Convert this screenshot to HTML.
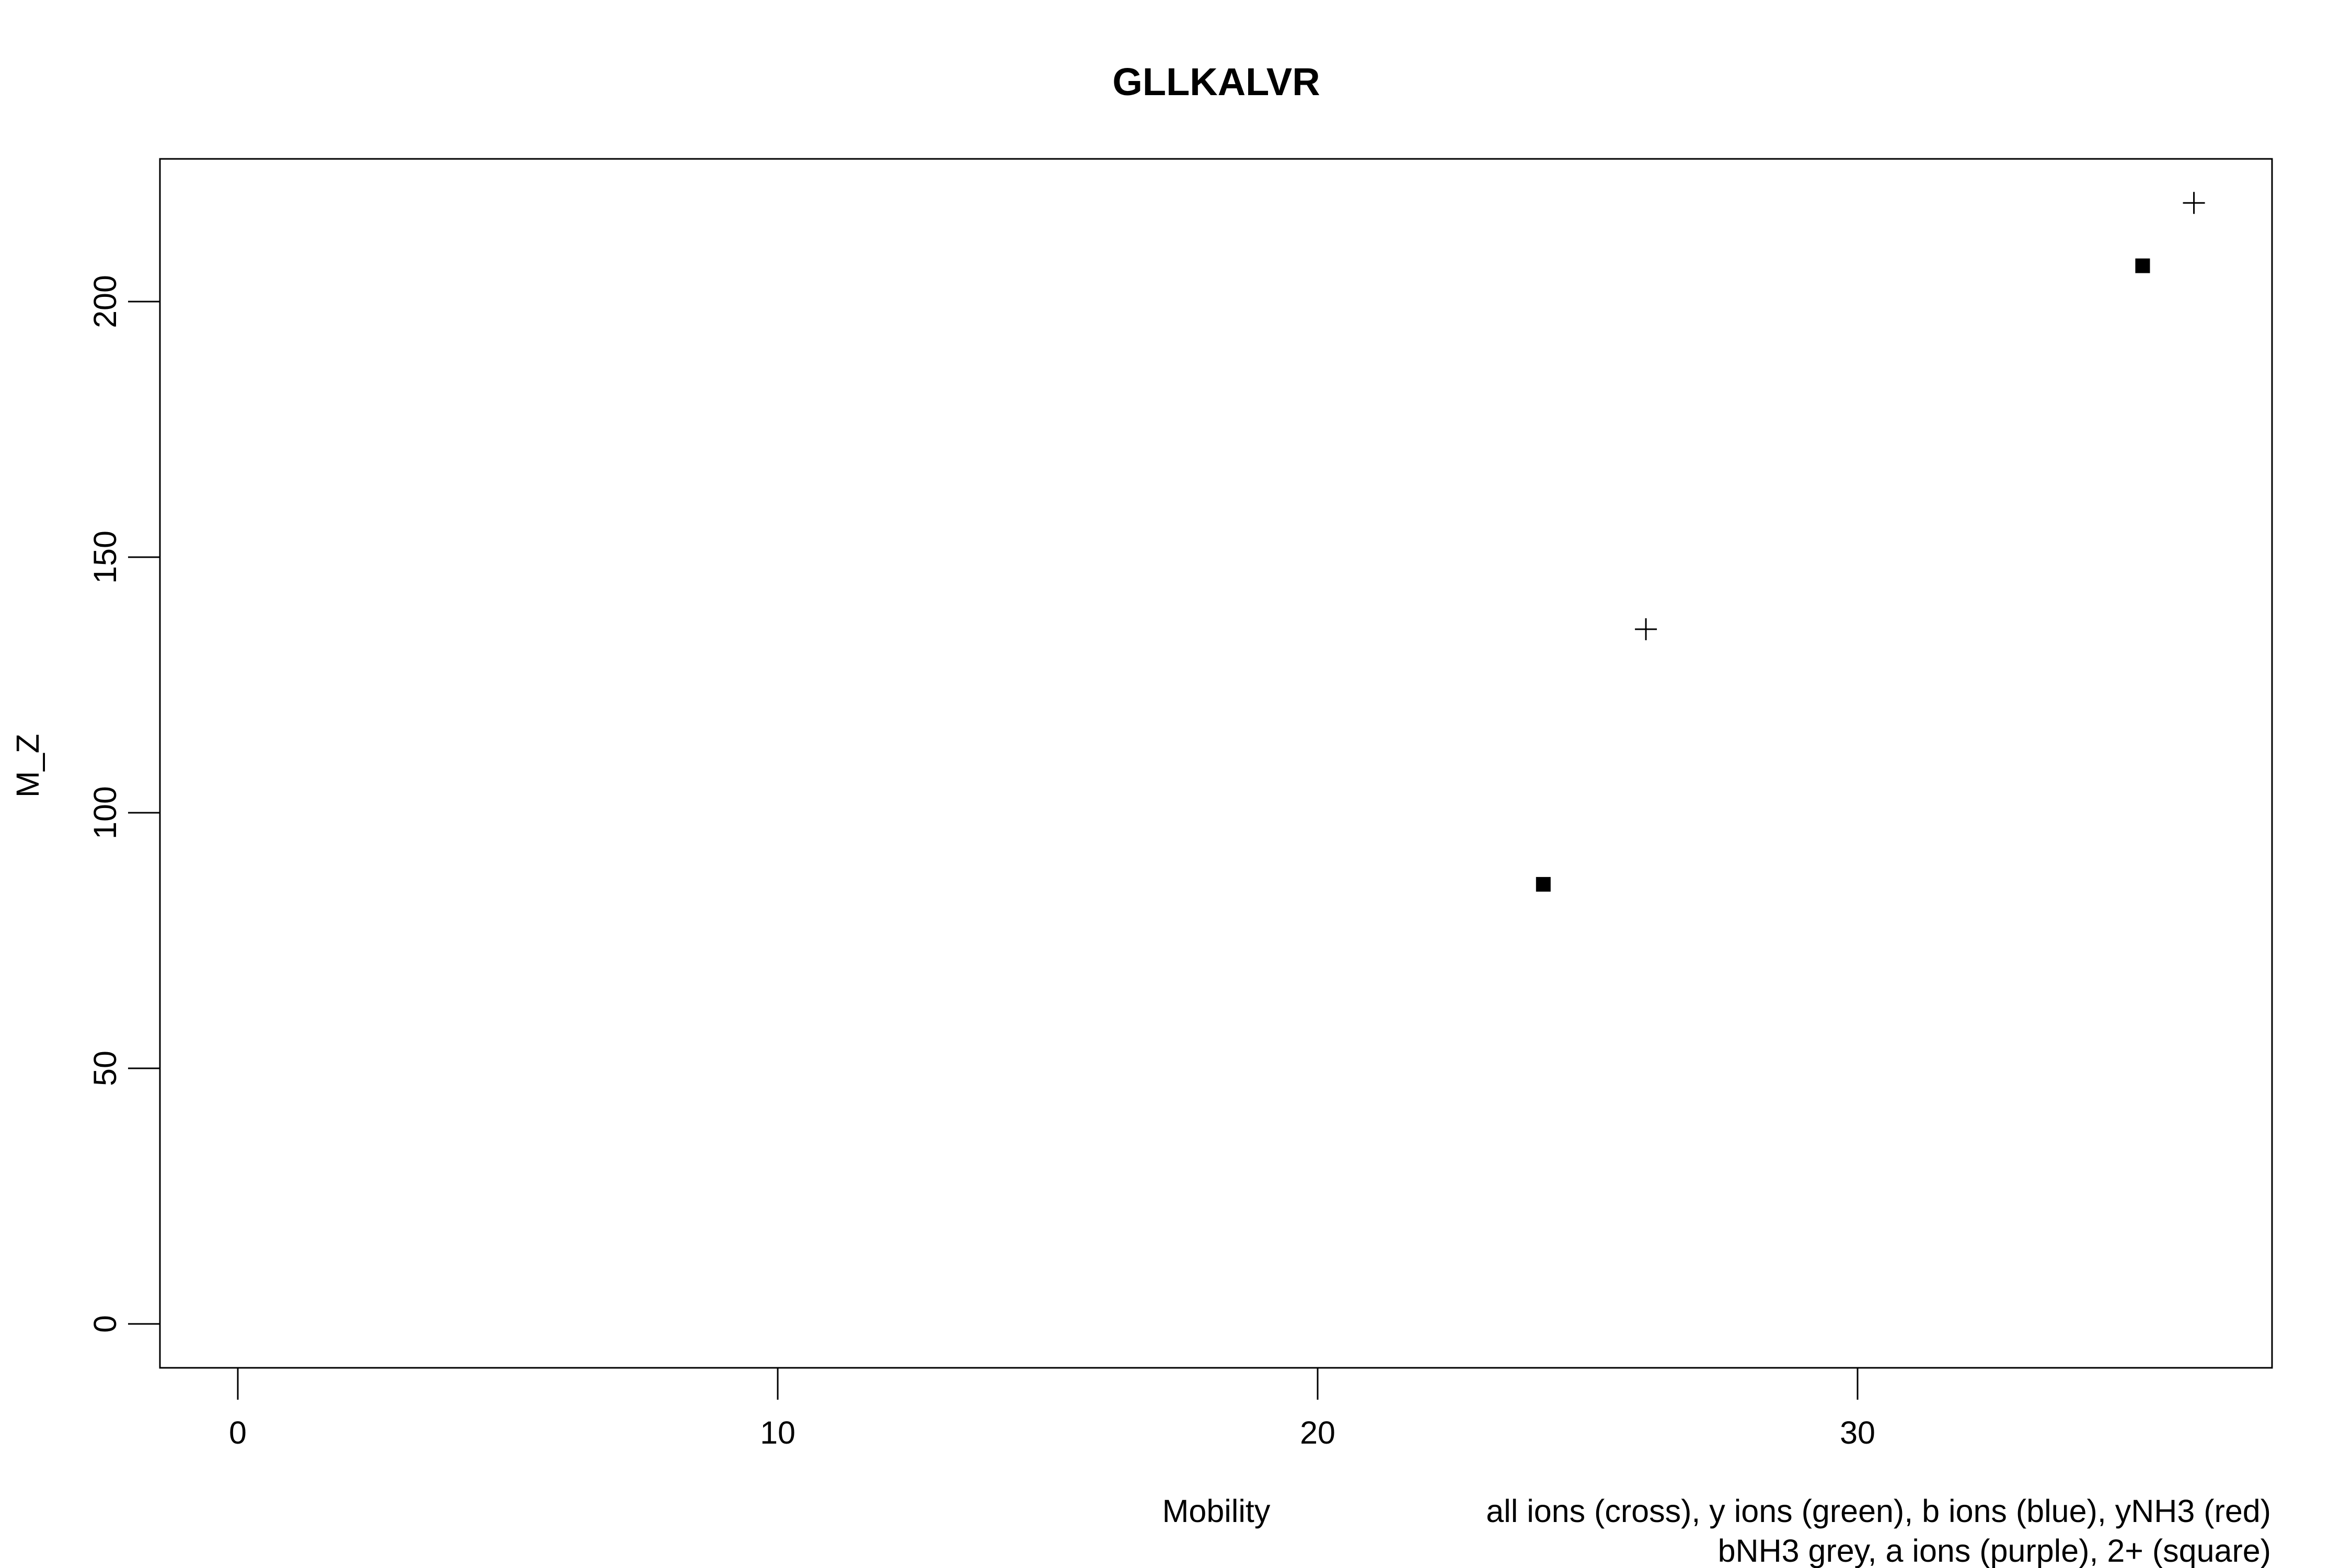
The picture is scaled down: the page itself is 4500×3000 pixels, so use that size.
<!DOCTYPE html>
<html><head><meta charset="utf-8"><style>
html,body{margin:0;padding:0;background:#fff;}
svg{display:block;font-family:"Liberation Sans",sans-serif;}
</style></head><body>
<svg id="chart" width="4500" height="3000" viewBox="0 0 4500 3000" xmlns="http://www.w3.org/2000/svg">
<rect width="4500" height="3000" fill="#fff"/>
<text x="2327" y="182" font-size="74" font-weight="bold" text-anchor="middle">GLLKALVR</text>
<rect x="306" y="304" width="4041" height="2313" fill="none" stroke="#000" stroke-width="3"/>
<g id="axes"></g>
<g id="marks"></g>
<text x="2327" y="2912" font-size="61" text-anchor="middle">Mobility</text>
<text x="4345" y="2912" font-size="61" text-anchor="end">all ions (cross), y ions (green), b ions (blue), yNH3 (red)</text>
<text x="4345" y="2988" font-size="61" text-anchor="end">bNH3 grey, a ions (purple), 2+ (square)</text>
<text x="74" y="1465" font-size="61" text-anchor="middle" transform="rotate(-90 74 1465)">M_Z</text>
</svg>
<script>
const xTicks = [0, 10, 20, 30];
const yTicks = [0, 50, 100, 150, 200];
const crossX = [26.08, 36.23];
const crossY = [135.9, 219.3];
const squareX = [24.18, 35.28];
const squareY = [86.0, 207.0];

const NS = "http://www.w3.org/2000/svg";
function sx(v){ return 455 + v * 103.3; }
function sy(v){ return 2533 - v * 9.78; }
function mk(tag, attrs){ const e = document.createElementNS(NS, tag); for (const k in attrs) e.setAttribute(k, attrs[k]); return e; }
const axes = document.getElementById('axes');
const marks = document.getElementById('marks');
xTicks.forEach(t => {
  const l = mk('line', {x1: sx(t), x2: sx(t), y1: 2617, y2: 2678, stroke: '#000', 'stroke-width': 3});
  
  
  axes.appendChild(l);
  const tx = mk('text', {x: sx(t), y: 2762, 'font-size': 61, 'text-anchor': 'middle'});
  tx.textContent = t;
  
  
  axes.appendChild(tx);
});
yTicks.forEach(t => {
  const y = sy(t);
  const l = mk('line', {x1: 245, x2: 306, y1: y, y2: y, stroke: '#000', 'stroke-width': 3});
  
  
  axes.appendChild(l);
  const tx = mk('text', {x: 222, y: y, 'font-size': 61, 'text-anchor': 'middle', transform: 'rotate(-90 222 ' + y + ')'});
  tx.textContent = t;
  
  
  axes.appendChild(tx);
});
crossX.forEach((v, i) => {
  const cx = sx(v), cy = sy(crossY[i]), r = 21;
  const p = mk('path', {d: `M${cx-r} ${cy}H${cx+r}M${cx} ${cy-r}V${cy+r}`, stroke: '#000', 'stroke-width': 3, fill: 'none'});
  
  
  marks.appendChild(p);
});
squareX.forEach((v, i) => {
  const cx = sx(v), cy = sy(squareY[i]), r = 14;
  const p = mk('rect', {x: cx-r, y: cy-r, width: 2*r, height: 2*r, fill: '#000'});
  
  
  marks.appendChild(p);
});
</script>
</body></html>
